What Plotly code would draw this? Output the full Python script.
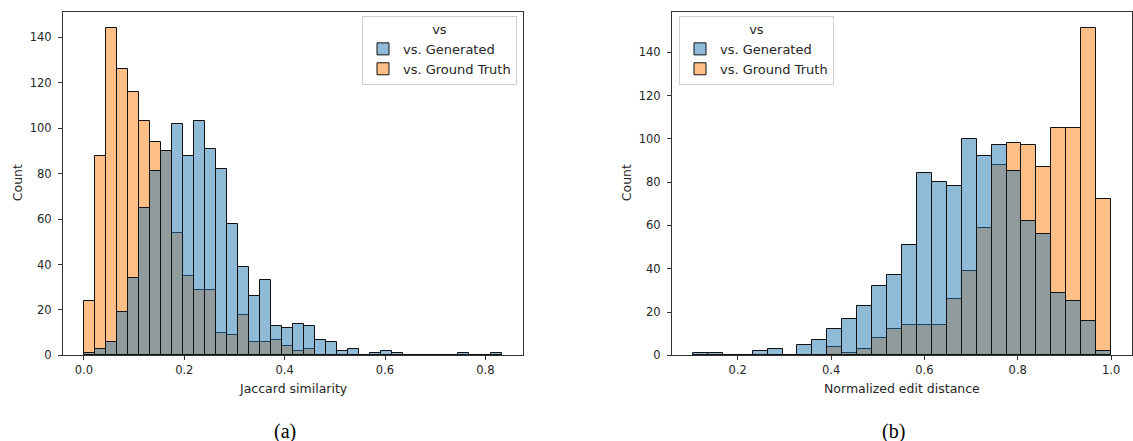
import numpy as np
import plotly.graph_objects as go

# ---------------- data ----------------
# (a) Jaccard similarity histogram: 38 common bins starting at 0.0
JAC_BIN_START = 0.0
JAC_BIN_WIDTH = 0.8333 / 38
JAC_GENERATED = [1, 3, 6, 19, 34, 65, 81, 90, 102, 88, 103, 91, 82, 58, 39, 26, 33, 13,
                 12, 14, 13, 7, 6, 2, 3, 0, 1, 2, 1, 0, 0, 0, 0, 0, 1, 0, 0, 1]
JAC_GROUND_TRUTH = [24, 88, 144, 126, 116, 103, 94, 90, 54, 35, 29, 29, 10, 9, 18, 6, 6, 7,
                    4, 2, 3, 0, 0, 0, 0, 0, 0, 0, 0, 0, 0, 0, 0, 0, 0, 0, 0, 0]

# (b) Normalized edit distance histogram: 28 common bins ending at 1.0
NED_BIN_START = 0.104
NED_BIN_WIDTH = 0.032
NED_GENERATED = [1, 1, 0, 0, 2, 3, 0, 5, 7, 12, 17, 23, 32, 37, 51, 84, 80, 78, 100, 92,
                 97, 85, 62, 56, 29, 25, 16, 2]
NED_GROUND_TRUTH = [0, 0, 0, 0, 0, 0, 0, 0, 0, 4, 1, 3, 8, 12, 14, 14, 14, 26, 39, 59,
                    88, 98, 97, 87, 105, 105, 151, 72]

SERIES_NAMES = ["vs. Generated", "vs. Ground Truth"]
LEGEND_TITLE = "vs"
X_TITLES = ["Jaccard similarity", "Normalized edit distance"]
Y_TITLE = "Count"
CAPTIONS = ["(a)", "(b)"]
JAC_XTICKS = [0.0, 0.2, 0.4, 0.6, 0.8]
NED_XTICKS = [0.2, 0.4, 0.6, 0.8, 1.0]
Y_TICKS = [0, 20, 40, 60, 80, 100, 120, 140]

# ---------------- style ----------------
W, H = 1133, 441
H_EFF = 433.5  # vertical calibration of the rendered page
BLUE = "rgba(31,119,180,0.5)"
ORANGE = "rgba(255,127,14,0.5)"
EDGE = "#111111"
TXT = "#262626"
FONT = "DejaVu Sans"


def px_x(p):
    return p / W


def px_y(p):
    return 1 - p / H_EFF


def centers(start, width, n):
    return start + width * (np.arange(n) + 0.5)


fig = go.Figure()

panels = [
    dict(start=JAC_BIN_START, width=JAC_BIN_WIDTH, gen=JAC_GENERATED, gt=JAC_GROUND_TRUTH,
         xa="x", ya="y", legend="legend"),
    dict(start=NED_BIN_START, width=NED_BIN_WIDTH, gen=NED_GENERATED, gt=NED_GROUND_TRUTH,
         xa="x2", ya="y2", legend="legend2"),
]

for p in panels:
    n = len(p["gen"])
    xc = centers(p["start"], p["width"], n)
    # ground truth drawn first, generated layered on top (seaborn layering)
    fig.add_trace(go.Bar(
        x=xc, y=p["gt"], width=p["width"], name=SERIES_NAMES[1],
        marker=dict(color=ORANGE, line=dict(color=EDGE, width=1)),
        xaxis=p["xa"], yaxis=p["ya"], legend=p["legend"], legendrank=2,
        hoverinfo="x+y",
    ))
    fig.add_trace(go.Bar(
        x=xc, y=p["gen"], width=p["width"], name=SERIES_NAMES[0],
        marker=dict(color=BLUE, line=dict(color=EDGE, width=1)),
        xaxis=p["xa"], yaxis=p["ya"], legend=p["legend"], legendrank=1,
        hoverinfo="x+y",
    ))

axis_common = dict(
    showgrid=False, zeroline=False, showline=True, linecolor="#333333", linewidth=1,
    mirror=True, ticks="outside", ticklen=4, tickwidth=1, tickcolor="#333333",
    tickfont=dict(family=FONT, size=11.5, color=TXT),
)

jac_max = JAC_BIN_START + JAC_BIN_WIDTH * len(JAC_GENERATED)
jac_pad = 0.05 * (jac_max - JAC_BIN_START)
ned_max = NED_BIN_START + NED_BIN_WIDTH * len(NED_GENERATED)
ned_pad = 0.05 * (ned_max - NED_BIN_START)
jac_ymax = 1.05 * max(max(JAC_GENERATED), max(JAC_GROUND_TRUTH))
ned_ymax = 1.05 * max(max(NED_GENERATED), max(NED_GROUND_TRUTH))

legend_common = dict(
    yanchor="top", y=px_y(16),
    bgcolor="rgba(255,255,255,0.8)", bordercolor="#d0d0d0", borderwidth=1,
    font=dict(family=FONT, size=13, color=TXT),
    title=dict(text=LEGEND_TITLE, side="top center", font=dict(family=FONT, size=13, color=TXT)),
    itemwidth=30, tracegroupgap=0,
)

fig.update_layout(
    width=W, height=H, autosize=False, margin=dict(l=0, r=0, t=0, b=0, pad=0),
    paper_bgcolor="white", plot_bgcolor="white",
    barmode="overlay", bargap=0,
    font=dict(family=FONT, size=11, color=TXT),
    xaxis=dict(domain=[px_x(63), px_x(523)], anchor="y",
               range=[JAC_BIN_START - jac_pad, jac_max + jac_pad],
               tickvals=JAC_XTICKS, ticktext=[f"{v:.1f}" for v in JAC_XTICKS],
               ticklabelstandoff=0, **axis_common),
    yaxis=dict(domain=[px_y(355), px_y(12)], anchor="x", range=[0, jac_ymax],
               tickvals=Y_TICKS, ticklabelstandoff=4, **axis_common),
    xaxis2=dict(domain=[px_x(672), px_x(1132)], anchor="y2",
                range=[NED_BIN_START - ned_pad, ned_max + ned_pad],
                tickvals=NED_XTICKS, ticktext=[f"{v:.1f}" for v in NED_XTICKS],
                ticklabelstandoff=0, **axis_common),
    yaxis2=dict(domain=[px_y(355), px_y(12)], anchor="x2", range=[0, ned_ymax],
                tickvals=Y_TICKS, ticklabelstandoff=4, **axis_common),
    legend=dict(x=px_x(517), xanchor="right", **legend_common),
    legend2=dict(x=px_x(679), xanchor="left", **legend_common),
    showlegend=True,
)

annotations = [
    dict(text=X_TITLES[0], x=px_x(293), y=px_y(388)),
    dict(text=X_TITLES[1], x=px_x(902), y=px_y(388)),
    dict(text=Y_TITLE, x=px_x(17), y=px_y(183), textangle=-90),
    dict(text=Y_TITLE, x=px_x(626), y=px_y(183), textangle=-90),
]
for a in annotations:
    fig.add_annotation(xref="paper", yref="paper", xanchor="center", yanchor="middle",
                       showarrow=False, font=dict(family=FONT, size=12.5, color=TXT), **a)

for cap, cx in zip(CAPTIONS, [285, 893]):
    fig.add_annotation(text=cap, xref="paper", yref="paper", x=px_x(cx), y=px_y(431),
                       xanchor="center", yanchor="middle", showarrow=False,
                       font=dict(family="Liberation Serif", size=20, color="black"))

fig.write_html(
    "out.html",
    config={"displayModeBar": False, "responsive": False},
    post_script=(
        "document.documentElement.style.margin='0';"
        "document.documentElement.style.overflow='hidden';"
        "document.body.style.margin='0';document.body.style.padding='0';"
        "document.body.style.overflow='hidden';"
    ),
)
